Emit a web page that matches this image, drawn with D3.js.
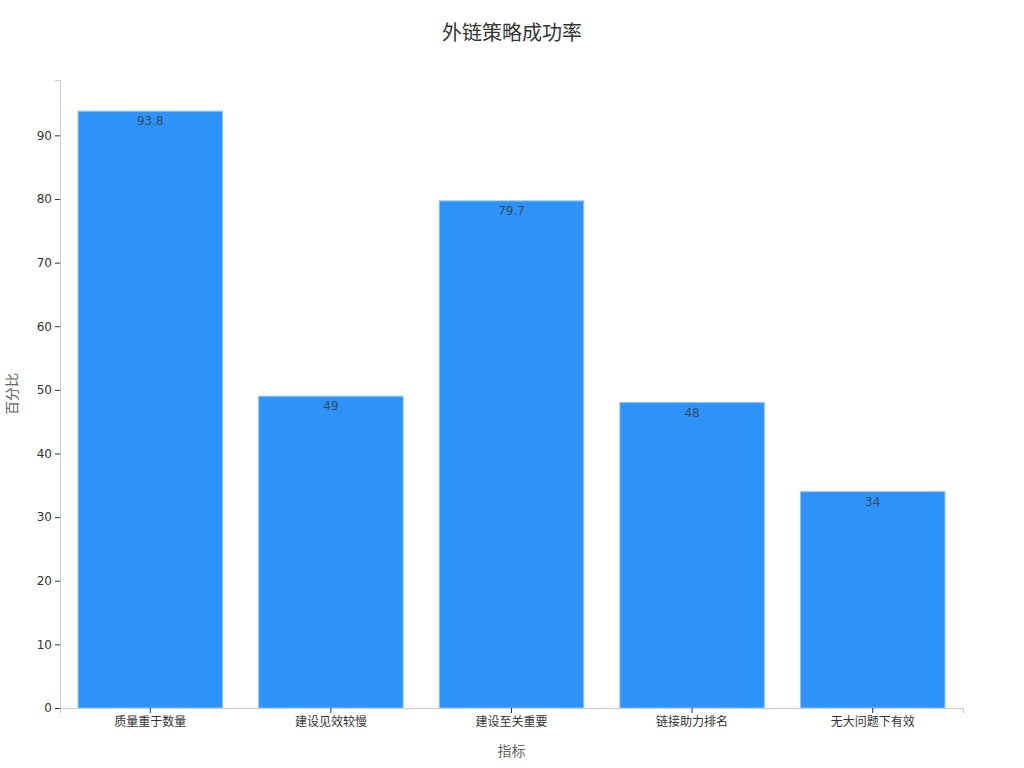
<!DOCTYPE html>
<html><head><meta charset="utf-8">
<script src="https://cdn.jsdelivr.net/npm/d3@7"></script>
<style>body{margin:0;background:#fff;font-family:"DejaVu Sans","Noto Sans CJK SC",sans-serif;}</style>
</head><body><svg id="c" width="1024" height="768"></svg>
<script>
const categories = ["质量重于数量","建设见效较慢","建设至关重要","链接助力排名","无大问题下有效"];
const values = [93.8, 49, 79.7, 48, 34];
const yTicks = [0,10,20,30,40,50,60,70,80,90];
const title = "外链策略成功率";
const xLabel = "指标";
const yLabel = "百分比";

const svg = d3.select("#c");
const m = {l:60, r:61, t:80, b:60};
const W = 1024, H = 768;
const x = d3.scaleBand().domain(categories).range([m.l, W-m.r]).paddingInner(0.2).paddingOuter(0.1);
const y = d3.scaleLinear().domain([0, 98.7]).range([H-m.b, m.t]);
const font = '"DejaVu Sans","Noto Sans CJK SC",sans-serif';

svg.append("text").attr("x", 512).attr("y", 40).attr("text-anchor","middle")
  .attr("font-size", 20).attr("fill","#333").attr("font-family", font).text(title);

svg.selectAll("rect.bar").data(values).join("rect").attr("class","bar")
  .attr("x",(d,i)=>x(categories[i])).attr("width",x.bandwidth())
  .attr("y",d=>y(d)).attr("height",d=>y(0)-y(d))
  .attr("fill","#2E93F9").attr("stroke","#8CC4F7").attr("stroke-width",1);

svg.selectAll("text.val").data(values).join("text").attr("class","val")
  .attr("x",(d,i)=>x(categories[i])+x.bandwidth()/2).attr("y",d=>y(d)+14)
  .attr("text-anchor","middle").attr("font-size",12).attr("fill","#3a4a5a").attr("font-family",font)
  .text(d=>d);

const xa = svg.append("g").attr("transform",`translate(0,${H-m.b})`)
  .call(d3.axisBottom(x).tickSizeOuter(0).tickSize(5).tickPadding(4));
xa.select(".domain").attr("stroke","#ccc");
xa.selectAll(".tick line").attr("stroke","#333");
xa.selectAll(".tick text").attr("font-size",12).attr("fill","#333").attr("font-family",font);

const ya = svg.append("g").attr("transform",`translate(${m.l},0)`)
  .call(d3.axisLeft(y).tickValues(yTicks).tickSizeOuter(0).tickSize(5).tickPadding(3));
ya.select(".domain").attr("stroke","#ccc");
ya.selectAll(".tick line").attr("stroke","#333");
ya.selectAll(".tick text").attr("font-size",12).attr("fill","#333").attr("font-family",font);

svg.append("text").attr("x", (m.l + W-m.r)/2).attr("y", 756).attr("text-anchor","middle")
  .attr("font-size",14).attr("fill","#666").attr("font-family",font).text(xLabel);
svg.append("text").attr("transform",`translate(17,${(m.t+H-m.b)/2}) rotate(-90)`).attr("text-anchor","middle")
  .attr("font-size",14).attr("fill","#666").attr("font-family",font).text(yLabel);
</script></body></html>
